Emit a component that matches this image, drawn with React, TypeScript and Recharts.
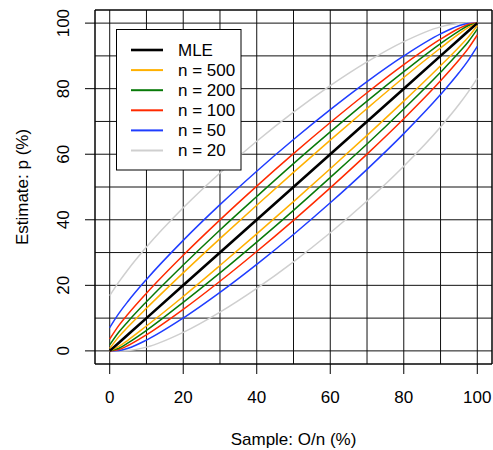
import { LineChart, Line, XAxis, YAxis, CartesianGrid, ReferenceLine } from "recharts";

const font = "'Liberation Sans', Arial, Helvetica, sans-serif";

// sample proportion O/n (%)
const xs = [0, 2.5, 5, 10, 20, 30, 40, 50, 60, 70, 80, 90, 95, 97.5, 100];
const mle = [0, 2.5, 5, 10, 20, 30, 40, 50, 60, 70, 80, 90, 95, 97.5, 100];

// interval bounds (%)
const n500Up = [0.74, 4.35, 7.35, 13.0, 23.8, 34.25, 44.45, 54.47, 64.3, 73.95, 83.4, 92.4, 96.7, 98.65, 100];
const n500Lo = [0, 1.35, 3.3, 7.6, 16.6, 26.05, 35.7, 45.53, 55.55, 65.75, 76.2, 87.0, 92.65, 95.65, 99.26];
const n200Up = [1.83, 5.75, 9.0, 15.0, 26.2, 36.9, 47.1, 57.13, 66.8, 76.2, 85.2, 93.75, 97.55, 99.2, 100];
const n200Lo = [0, 0.8, 2.45, 6.25, 14.8, 23.8, 33.2, 42.87, 52.9, 63.1, 73.8, 85.0, 91.0, 94.25, 98.17];
const n100Up = [3.62, 7.79, 11.28, 17.62, 29.19, 39.98, 50.28, 60.17, 69.67, 78.76, 87.34, 95.11, 98.37, 99.6, 100];
const n100Lo = [0, 0.4, 1.63, 4.89, 12.66, 21.24, 30.33, 39.83, 49.72, 60.02, 70.81, 82.38, 88.72, 92.21, 96.38];
const n50Up = [7.11, 11.43, 15.15, 21.81, 33.72, 44.61, 54.82, 64.48, 73.6, 82.15, 89.98, 96.7, 99.19, 99.91, 100];
const n50Lo = [0, 0.09, 0.81, 3.3, 10.02, 17.85, 26.4, 35.52, 45.18, 55.39, 66.28, 78.19, 84.85, 88.57, 92.89];
const n20Up = [16.84, 21.04, 24.85, 31.69, 43.66, 54.28, 63.96, 72.82, 80.91, 88.15, 94.33, 98.85, 99.87, 99.97, 100];
const n20Lo = [0, 0.03, 0.13, 1.15, 5.67, 11.85, 19.09, 27.18, 36.04, 45.72, 56.34, 68.31, 75.15, 78.96, 83.16];

const gridTicks = [0, 10, 20, 30, 40, 50, 60, 70, 80, 90, 100];
const labelTicks = [0, 20, 40, 60, 80, 100];

const series = [
  { key: "n20", label: "n = 20", color: "#cfcfcf", up: n20Up, lo: n20Lo },
  { key: "n50", label: "n = 50", color: "#1f3dff", up: n50Up, lo: n50Lo },
  { key: "n100", label: "n = 100", color: "#ff2a00", up: n100Up, lo: n100Lo },
  { key: "n200", label: "n = 200", color: "#087a08", up: n200Up, lo: n200Lo },
  { key: "n500", label: "n = 500", color: "#ffb000", up: n500Up, lo: n500Lo },
];

const legendItems = [
  { label: "MLE", color: "#000000", w: 2.6 },
  { label: "n = 500", color: "#ffb000", w: 2 },
  { label: "n = 200", color: "#087a08", w: 2 },
  { label: "n = 100", color: "#ff2a00", w: 2 },
  { label: "n = 50", color: "#1f3dff", w: 2 },
  { label: "n = 20", color: "#cfcfcf", w: 2 },
];

const data = xs.map((x, i) => {
  const row: any = { x, mle: mle[i] };
  series.forEach((s) => {
    row[s.key + "Up"] = s.up[i];
    row[s.key + "Lo"] = s.lo[i];
  });
  return row;
});

const XTick = (props: any) => {
  const { x, y, payload } = props;
  if (!labelTicks.includes(payload.value)) return <g />;
  return (
    <g>
      <line x1={x} x2={x} y1={y} y2={y + 10} stroke="#000" />
      <text x={x} y={y + 33.5} textAnchor="middle" dominantBaseline="central" fontSize={17} fontFamily={font} fill="#000">
        {payload.value}
      </text>
    </g>
  );
};

const YTick = (props: any) => {
  const { x, y, payload } = props;
  if (!labelTicks.includes(payload.value)) return <g />;
  const cx = x - 31;
  return (
    <g>
      <line x1={x - 10} x2={x} y1={y} y2={y} stroke="#000" />
      <text x={cx} y={y} transform={`rotate(-90, ${cx}, ${y})`} textAnchor="middle" dominantBaseline="central" fontSize={17} fontFamily={font} fill="#000">
        {payload.value}
      </text>
    </g>
  );
};

export default function App() {
  return (
    <div style={{ position: "absolute", left: 0, top: 0, width: 493, height: 450, background: "#fff" }}>
      <LineChart width={493} height={450} data={data} margin={{ top: 10, right: 1, bottom: 0, left: 0 }}>
        <CartesianGrid stroke="#111" strokeWidth={1} />
        <XAxis
          dataKey="x"
          type="number"
          domain={[-4, 104]}
          allowDataOverflow
          ticks={gridTicks}
          interval={0}
          height={86}
          axisLine={false}
          tickLine={false}
          tickSize={0}
          tickMargin={0}
          tick={<XTick />}
        />
        <YAxis
          type="number"
          domain={[-4, 104]}
          allowDataOverflow
          ticks={gridTicks}
          interval={0}
          width={95}
          axisLine={false}
          tickLine={false}
          tickSize={0}
          tickMargin={0}
          tick={<YTick />}
        />
        <ReferenceLine x={-4} stroke="#000" />
        <ReferenceLine x={104} stroke="#000" />
        <ReferenceLine y={-4} stroke="#000" />
        <ReferenceLine y={104} stroke="#000" />
        {series.map((s) => (
          <Line key={s.key + "Up"} type="monotone" dataKey={s.key + "Up"} stroke={s.color} strokeWidth={1.5} dot={false} isAnimationActive={false} />
        ))}
        {series.map((s) => (
          <Line key={s.key + "Lo"} type="monotone" dataKey={s.key + "Lo"} stroke={s.color} strokeWidth={1.5} dot={false} isAnimationActive={false} />
        ))}
        <Line type="linear" dataKey="mle" stroke="#000" strokeWidth={2.6} dot={false} isAnimationActive={false} />
      </LineChart>
      <svg width={493} height={450} style={{ position: "absolute", left: 0, top: 0, pointerEvents: "none" }}>
        <text x={293.5} y={439} textAnchor="middle" dominantBaseline="central" fontSize={17} fontFamily={font} fill="#000">
          Sample: O/n (%)
        </text>
        <text x={22} y={187} transform="rotate(-90, 22, 187)" textAnchor="middle" dominantBaseline="central" fontSize={17} fontFamily={font} fill="#000">
          Estimate: p (%)
        </text>
        <rect x={116.5} y={29.5} width={124.5} height={140.5} fill="#fff" stroke="#000" strokeWidth={1} />
        {legendItems.map((it, i) => {
          const ly = 50 + i * 20.1;
          return (
            <g key={it.label}>
              <line x1={131} x2={163} y1={ly} y2={ly} stroke={it.color} strokeWidth={it.w} />
              <text x={178} y={ly} dominantBaseline="central" fontSize={17} fontFamily={font} fill="#000">
                {it.label}
              </text>
            </g>
          );
        })}
      </svg>
    </div>
  );
}
